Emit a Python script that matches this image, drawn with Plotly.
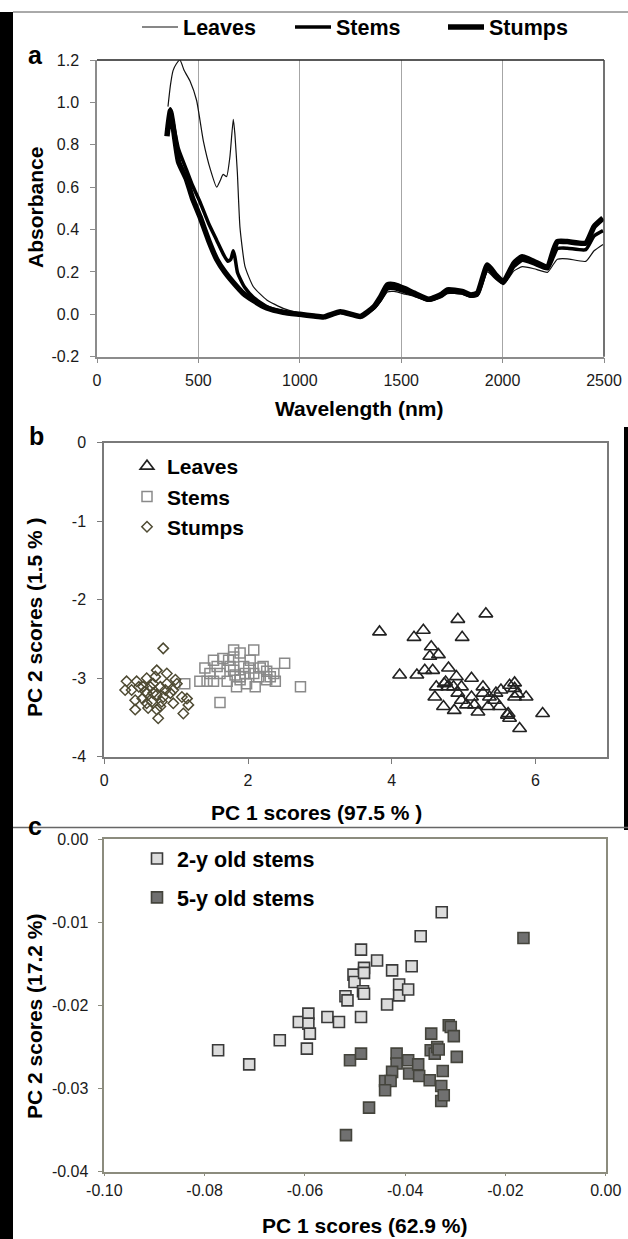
import plotly.graph_objects as go

# ---------------- data ----------------
# Panel a: absorbance spectra
wl_leaves = [350, 362, 375, 390, 409, 430, 459, 491, 524, 560, 590, 607, 622, 639, 655, 672, 680, 692, 705, 730,
             771, 837, 918, 1000, 1070, 1120, 1200, 1300, 1366, 1399, 1432, 1465, 1520, 1563, 1637, 1700, 1728,
             1800, 1843, 1876, 1925, 1966, 2004, 2056, 2097, 2155, 2221, 2250, 2270, 2319, 2410, 2451, 2495]
abs_leaves = [0.98, 1.08, 1.15, 1.18, 1.20, 1.15, 1.10, 1.01, 0.82, 0.68, 0.60, 0.63, 0.66, 0.65, 0.74, 0.92, 0.85,
              0.67, 0.41, 0.225, 0.13, 0.068, 0.028, 0.005, -0.008, -0.012, 0.008, -0.012, 0.025, 0.06, 0.105,
              0.108, 0.095, 0.085, 0.062, 0.08, 0.098, 0.095, 0.08, 0.085, 0.20, 0.165, 0.14, 0.205, 0.225, 0.215,
              0.198, 0.235, 0.26, 0.262, 0.25, 0.30, 0.33]

wl_stems = [345, 352, 362, 372, 402, 442, 470, 508, 550, 590, 625, 645, 660, 672, 680, 692, 710, 730, 771, 837,
            918, 1000, 1070, 1120, 1200, 1300, 1366, 1399, 1432, 1465, 1520, 1563, 1637, 1700, 1728, 1800, 1843,
            1876, 1925, 1966, 2004, 2056, 2097, 2155, 2221, 2250, 2270, 2319, 2410, 2451, 2495]
abs_stems = [0.85, 0.90, 0.97, 0.92, 0.78, 0.68, 0.61, 0.53, 0.43, 0.35, 0.28, 0.25, 0.26, 0.30, 0.27, 0.20, 0.16,
             0.125, 0.08, 0.036, 0.012, 0.0, -0.008, -0.012, 0.01, -0.01, 0.03, 0.07, 0.12, 0.122, 0.105, 0.092,
             0.066, 0.088, 0.105, 0.10, 0.086, 0.092, 0.215, 0.175, 0.148, 0.225, 0.255, 0.238, 0.215, 0.27, 0.31,
             0.312, 0.305, 0.37, 0.395]

wl_stumps = [345, 352, 362, 372, 402, 442, 470, 508, 550, 590, 630, 672, 720, 771, 837, 918, 1000, 1070, 1120,
             1200, 1300, 1366, 1399, 1432, 1465, 1520, 1563, 1637, 1700, 1728, 1800, 1843, 1876, 1925, 1966, 2004,
             2056, 2097, 2155, 2221, 2250, 2270, 2319, 2410, 2451, 2495]
abs_stumps = [0.84, 0.90, 0.96, 0.91, 0.72, 0.635, 0.55, 0.46, 0.35, 0.26, 0.20, 0.15, 0.10, 0.065, 0.03, 0.01,
              0.0, -0.008, -0.012, 0.012, -0.01, 0.036, 0.083, 0.139, 0.14, 0.12, 0.10, 0.071, 0.095, 0.115, 0.108,
              0.091, 0.10, 0.233, 0.186, 0.154, 0.241, 0.272, 0.249, 0.225, 0.30, 0.343, 0.343, 0.336, 0.414, 0.454]

# Panel b: PCA scores (PC1, PC2)
leaves_pc1 = [3.83, 4.31, 4.44, 4.92, 5.31, 4.98, 4.55, 4.53, 4.65, 4.11, 4.35, 4.46, 4.57, 4.79, 4.62, 4.73, 4.90,
              4.97, 5.11, 5.27, 4.60, 4.72, 4.87, 4.97, 5.11, 5.20, 5.15, 5.36, 5.45, 5.52, 5.64, 5.71, 5.87, 5.50,
              5.62, 5.64, 5.78, 6.10, 5.34, 4.92, 4.78, 5.71, 5.04, 5.43, 5.61, 5.27, 5.71, 4.75, 4.86, 5.75]
leaves_pc2 = [-2.41, -2.48, -2.39, -2.25, -2.18, -2.48, -2.60, -2.72, -2.70, -2.96, -2.96, -2.90, -2.90, -2.87,
              -3.11, -3.07, -2.98, -3.11, -3.00, -3.11, -3.24, -3.36, -3.41, -3.28, -3.24, -3.43, -3.34, -3.24,
              -3.19, -3.15, -3.09, -3.13, -3.24, -3.36, -3.45, -3.51, -3.64, -3.45, -3.36, -3.19, -3.11, -3.24,
              -3.34, -3.28, -3.47, -3.19, -3.06, -3.05, -3.11, -3.20]

stems_pc1 = [1.12, 1.40, 1.43, 1.52, 1.61, 1.65, 1.71, 1.80, 1.80, 1.89, 1.94, 1.98, 2.08, 2.10, 2.17, 2.26, 2.31,
             2.36, 2.38, 2.51, 2.73, 1.52, 1.61, 1.75, 1.89, 2.03, 1.84, 2.08, 2.21, 1.33, 1.47, 1.96, 1.80, 1.57,
             2.15, 1.82, 2.01, 1.73, 1.89, 2.26]
stems_pc2 = [-3.07, -2.87, -3.04, -2.77, -3.31, -2.75, -3.04, -2.73, -2.90, -2.68, -2.85, -3.07, -2.64, -3.11,
             -2.87, -2.91, -2.98, -2.94, -3.04, -2.81, -3.11, -3.04, -2.94, -2.85, -2.98, -2.77, -3.11, -2.94,
             -2.85, -3.04, -2.94, -2.94, -2.64, -2.85, -2.98, -2.96, -2.87, -2.77, -3.02, -3.02]

stumps_pc1 = [0.82, 0.31, 0.29, 0.43, 0.43, 0.54, 0.59, 0.61, 0.68, 0.73, 0.75, 0.73, 0.80, 0.87, 0.92, 0.96, 1.01,
              1.08, 1.15, 1.17, 1.10, 0.96, 0.48, 0.64, 0.59, 0.68, 0.78, 0.53, 0.66, 0.71, 0.85, 0.45, 0.57, 0.73,
              0.82, 0.38, 0.87, 0.99, 0.59, 0.78]
stumps_pc2 = [-2.62, -3.04, -3.15, -3.28, -3.40, -3.11, -3.00, -3.38, -3.19, -2.90, -3.51, -3.40, -3.30, -3.07,
              -3.19, -3.15, -3.07, -3.24, -3.26, -3.34, -3.45, -3.32, -3.11, -3.11, -3.19, -3.07, -3.11, -3.26,
              -3.30, -2.98, -3.15, -3.04, -3.17, -3.21, -3.24, -3.15, -2.94, -3.02, -3.32, -3.36]

# Panel c: PCA scores of stems by age
y2_pc1 = [-0.0773, -0.0711, -0.0650, -0.0612, -0.0593, -0.0593, -0.0590, -0.0596, -0.0555, -0.0532, -0.0519,
          -0.0515, -0.0503, -0.0501, -0.0488, -0.0482, -0.0482, -0.0484, -0.0482, -0.0488, -0.0456, -0.0426,
          -0.0436, -0.0412, -0.0412, -0.0394, -0.0387, -0.0369, -0.0327]
y2_pc2 = [-0.0254, -0.0271, -0.0242, -0.0220, -0.0210, -0.0222, -0.0234, -0.0252, -0.0214, -0.0220, -0.0189,
          -0.0194, -0.0163, -0.0172, -0.0133, -0.0155, -0.0161, -0.0183, -0.0186, -0.0214, -0.0146, -0.0158,
          -0.0199, -0.0175, -0.0188, -0.0181, -0.0153, -0.0117, -0.0088]

y5_pc1 = [-0.0164, -0.0518, -0.0472, -0.0510, -0.0488, -0.0417, -0.0417, -0.0426, -0.0440, -0.0429, -0.0440,
          -0.0394, -0.0392, -0.0374, -0.0372, -0.0351, -0.0348, -0.0349, -0.0341, -0.0336, -0.0333, -0.0325,
          -0.0328, -0.0328, -0.0323, -0.0313, -0.0309, -0.0303, -0.0297]
y5_pc2 = [-0.0119, -0.0356, -0.0323, -0.0266, -0.0258, -0.0258, -0.0270, -0.0280, -0.0291, -0.0291, -0.0302,
          -0.0266, -0.0282, -0.0271, -0.0285, -0.0290, -0.0234, -0.0254, -0.0258, -0.0250, -0.0253, -0.0279,
          -0.0297, -0.0315, -0.0308, -0.0224, -0.0226, -0.0237, -0.0262]

# tick labels
a_xticks = [0, 500, 1000, 1500, 2000, 2500]
a_xtext = ["0", "500", "1000", "1500", "2000", "2500"]
a_yticks = [-0.2, 0.0, 0.2, 0.4, 0.6, 0.8, 1.0, 1.2]
a_ytext = ["-0.2", "0.0", "0.2", "0.4", "0.6", "0.8", "1.0", "1.2"]
b_xticks = [0, 2, 4, 6]
b_xtext = ["0", "2", "4", "6"]
b_yticks = [0, -1, -2, -3, -4]
b_ytext = ["0", "-1", "-2", "-3", "-4"]
c_xticks = [-0.10, -0.08, -0.06, -0.04, -0.02, 0.0]
c_xtext = ["-0.10", "-0.08", "-0.06", "-0.04", "-0.02", "0.00"]
c_yticks = [0.0, -0.01, -0.02, -0.03, -0.04]
c_ytext = ["0.00", "-0.01", "-0.02", "-0.03", "-0.04"]

# ---------------- layout helpers ----------------
W, H = 628, 1239
FONT = "Liberation Sans, Arial, Helvetica, sans-serif"


def px(xp):
    return xp / W


def py(yp):
    return 1 - yp / H


fig = go.Figure()

# Panel a
fig.add_trace(go.Scatter(x=wl_leaves, y=abs_leaves, mode="lines", name="Leaves",
                         line=dict(color="#111111", width=1.2, shape="spline", smoothing=0.5),
                         xaxis="x", yaxis="y", legend="legend"))
fig.add_trace(go.Scatter(x=wl_stems, y=abs_stems, mode="lines", name="Stems",
                         line=dict(color="#000000", width=3.5, shape="spline", smoothing=0.5),
                         xaxis="x", yaxis="y", legend="legend"))
fig.add_trace(go.Scatter(x=wl_stumps, y=abs_stumps, mode="lines", name="Stumps",
                         line=dict(color="#000000", width=5.5, shape="spline", smoothing=0.5),
                         xaxis="x", yaxis="y", legend="legend"))

# Panel b
fig.add_trace(go.Scatter(x=leaves_pc1, y=leaves_pc2, mode="markers", name="Leaves",
                         marker=dict(symbol="triangle-up-open", size=12, color="#222222", line=dict(width=1.6)),
                         xaxis="x2", yaxis="y2", legend="legend2"))
fig.add_trace(go.Scatter(x=stems_pc1, y=stems_pc2, mode="markers", name="Stems",
                         marker=dict(symbol="square-open", size=10, color="#8a8a8a", line=dict(width=1.5)),
                         xaxis="x2", yaxis="y2", legend="legend2"))
fig.add_trace(go.Scatter(x=stumps_pc1, y=stumps_pc2, mode="markers", name="Stumps",
                         marker=dict(symbol="diamond-open", size=8, color="#4f4b33", line=dict(width=1.5)),
                         xaxis="x2", yaxis="y2", legend="legend2"))

# Panel c
fig.add_trace(go.Scatter(x=y2_pc1, y=y2_pc2, mode="markers", name="2-y old stems", legendgroup="g1",
                         marker=dict(symbol="square", size=11, color="#dcdcdc",
                                     line=dict(color="#3a3a3a", width=1.6)),
                         xaxis="x3", yaxis="y3", legend="legend3"))
fig.add_trace(go.Scatter(x=y5_pc1, y=y5_pc2, mode="markers", name="5-y old stems", legendgroup="g2",
                         marker=dict(symbol="square", size=11, color="#707070",
                                     line=dict(color="#44443c", width=1.6)),
                         xaxis="x3", yaxis="y3", legend="legend3"))

tickfont = dict(family=FONT, size=16, color="#1a1a1a")
common = dict(showgrid=False, zeroline=False, ticks="outside", tickfont=tickfont,
              automargin=False, showline=True, tickwidth=1)

fig.update_layout(
    template="none",
    width=W, height=H, autosize=False,
    margin=dict(l=0, r=0, t=0, b=0, pad=0, autoexpand=False),
    paper_bgcolor="white", plot_bgcolor="white",
    font=dict(family=FONT, color="#000000"),
    xaxis=dict(domain=[px(97), px(604)], range=[0, 2500], tickvals=a_xticks, ticktext=a_xtext,
               linecolor="#8c8c8c", linewidth=1.5, tickcolor="#8c8c8c", anchor="y", ticklabelstandoff=3,
               ticklen=5, **dict(common, showgrid=True, gridcolor="#a6a6a6", gridwidth=1)),
    yaxis=dict(domain=[py(356.7), py(60)], range=[-0.2, 1.2], tickvals=a_yticks, ticktext=a_ytext,
               linecolor="#8c8c8c", linewidth=1.5, tickcolor="#8c8c8c", anchor="x",
               ticklabelstandoff=8, ticklen=5, **common),
    xaxis2=dict(domain=[px(104.3), px(607.3)], range=[0, 7], tickvals=b_xticks, ticktext=b_xtext,
                mirror=True, linecolor="#7a7a7a", linewidth=2, tickcolor="#7a7a7a",
                anchor="y2", ticklabelstandoff=3, ticklen=5, **common),
    yaxis2=dict(domain=[py(756.7), py(442.7)], range=[-4, 0], tickvals=b_yticks, ticktext=b_ytext,
                mirror=True, linecolor="#7a7a7a", linewidth=2, tickcolor="#7a7a7a",
                anchor="x2", ticklabelstandoff=8, ticklen=5, **common),
    xaxis3=dict(domain=[px(104.3), px(605.7)], range=[-0.10, 0.0], tickvals=c_xticks, ticktext=c_xtext,
                mirror=True, linecolor="#8c8c7e", linewidth=1.5, tickcolor="#8c8c7e",
                anchor="y3", ticklabelstandoff=0, ticklen=3, **common),
    yaxis3=dict(domain=[py(1171.7), py(839)], range=[-0.04, 0.0], tickvals=c_yticks, ticktext=c_ytext,
                mirror=True, linecolor="#8c8c7e", linewidth=1.5, tickcolor="#8c8c7e",
                anchor="x3", ticklabelstandoff=6, ticklen=5, **common),
    legend=dict(orientation="h", x=px(137), y=py(27), xanchor="left", yanchor="middle",
                entrywidth=102, itemwidth=36, bgcolor="rgba(0,0,0,0)", borderwidth=0,
                font=dict(family=FONT, size=21.5, weight="bold", color="#000000")),
    legend2=dict(orientation="v", x=px(127), y=py(446), xanchor="left", yanchor="top",
                 bgcolor="rgba(0,0,0,0)", borderwidth=0,
                 font=dict(family=FONT, size=21, weight="bold", color="#000000")),
    legend3=dict(orientation="v", x=px(137), y=py(838), xanchor="left", yanchor="top",
                 bgcolor="rgba(0,0,0,0)", borderwidth=0, traceorder="grouped", tracegroupgap=8,
                 font=dict(family=FONT, size=21.5, weight="bold", color="#000000")),
)

title_font = dict(family=FONT, size=21, weight="bold", color="#000000")
label_font = dict(family=FONT, size=25, weight="bold", color="#000000")
annotations = [
    dict(text="Wavelength (nm)", x=px(359), y=py(408), font=title_font),
    dict(text="Absorbance", x=px(36), y=py(208), textangle=-90, font=title_font),
    dict(text="PC 1 scores (97.5 % )", x=px(316), y=py(812), font=title_font),
    dict(text="PC 2 scores (1.5 % )", x=px(34), y=py(617), textangle=-90, font=title_font),
    dict(text="PC 1 scores (62.9 %)", x=px(364), y=py(1225), font=title_font),
    dict(text="PC 2 scores (17.2 %)", x=px(34), y=py(1017), textangle=-90, font=title_font),
    dict(text="a", x=px(35), y=py(55), font=label_font),
    dict(text="b", x=px(36), y=py(436), font=label_font),
    dict(text="c", x=px(35), y=py(826), font=label_font),
]
for a in annotations:
    a.update(xref="paper", yref="paper", showarrow=False, xanchor="center", yanchor="middle")
fig.update_layout(annotations=annotations)

shapes = [
    # panel a dark top & right border
    dict(type="line", xref="x domain", yref="y domain", x0=0, x1=1, y0=1, y1=1,
         line=dict(color="#222222", width=1.5)),
    dict(type="line", xref="x domain", yref="y domain", x0=1, x1=1, y0=0, y1=1,
         line=dict(color="#444444", width=1.5)),
    # figure decorations (page frame artefacts)
    dict(type="rect", xref="paper", yref="paper", x0=0, x1=px(13), y0=0, y1=py(12),
         fillcolor="#000000", line=dict(width=0)),
    dict(type="line", xref="paper", yref="paper", x0=px(13), x1=1, y0=py(12), y1=py(12),
         line=dict(color="#555555", width=1)),
    dict(type="rect", xref="paper", yref="paper", x0=px(624), x1=1, y0=py(830), y1=py(427),
         fillcolor="#000000", line=dict(width=0)),
    dict(type="line", xref="paper", yref="paper", x0=px(13), x1=1, y0=py(827.5), y1=py(827.5),
         line=dict(color="#666666", width=1.5)),
]
fig.update_layout(shapes=shapes)

fig.write_html("out.html")
